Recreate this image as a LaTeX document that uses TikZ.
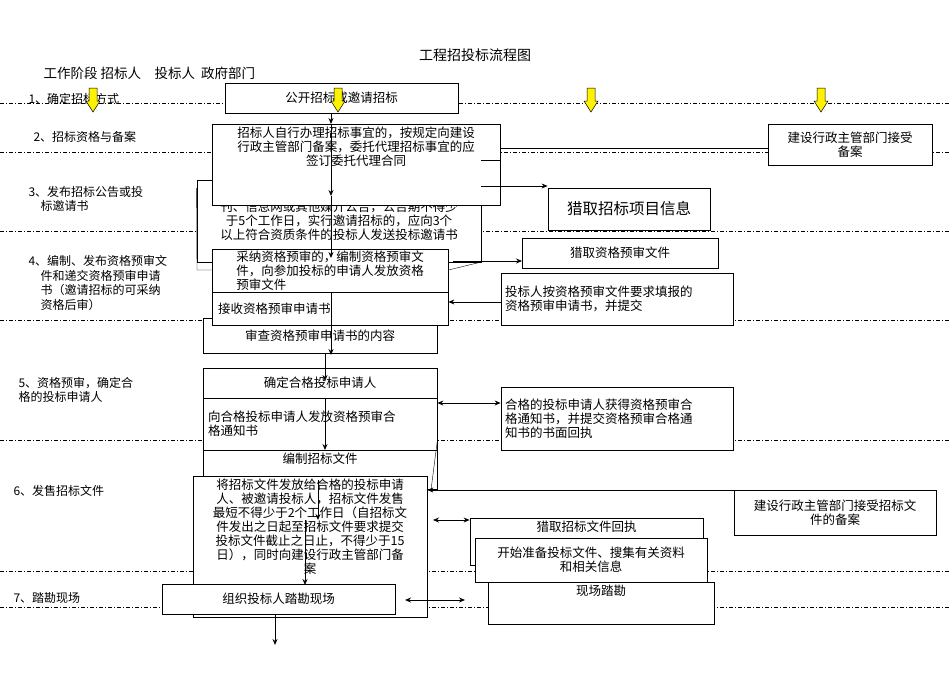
\documentclass[tikz,border=0pt]{standalone}
\usepackage{fontspec}
\setmainfont{Noto Sans CJK SC}
\XeTeXlinebreaklocale "zh"
\XeTeXlinebreakskip=0pt plus 1pt
\usetikzlibrary{arrows.meta}
\begin{document}
\begin{tikzpicture}[x=1pt,y=-1pt,
  bx/.style={draw,fill=white,line width=0.8pt,inner sep=3pt,align=center,font=\fontsize{12.5}{14}\selectfont},
  sep/.style={dash pattern=on 4pt off 2pt on 1pt off 2pt,line width=0.6pt},
  lbl/.style={anchor=west,align=left,font=\fontsize{12}{14.5}\selectfont},
  ar/.style={-{Stealth[length=6pt,width=5pt]},line width=0.8pt},
  dar/.style={{Stealth[length=6pt,width=5pt]}-{Stealth[length=6pt,width=5pt]},line width=0.8pt},
  yarr/.style={draw=black,fill=yellow,line width=0.5pt}]
\useasboundingbox (0,0) rectangle (950,672);
% separators
\foreach \y in {103,152,231,320,440,571,607}{\draw[sep] (0,\y) -- (950,\y);}
% title/header
\node[font=\fontsize{14}{16}\selectfont] (title) at (475,55) {工程招投标流程图};
\node[anchor=west,font=\fontsize{13.5}{16}\selectfont] (hdr) at (40,73) {工作阶段 招标人\quad 投标人 \ 政府部门};
% stage labels
\node[lbl] (s1) at (25,99) {1、确定招标方式};
\node[lbl] (s2) at (30,137) {2、招标资格与备案};
\node[lbl] (s3) at (25,199) {3、发布招标公告或投\\\quad 标邀请书};
\node[lbl] (s4) at (25,283) {4、编制、发布资格预审文\\\quad 件和递交资格预审申请\\\quad 书（邀请招标的可采纳\\\quad 资格后审）};
\node[lbl] (s5) at (15,390) {5、资格预审，确定合\\格的投标申请人};
\node[lbl] (s6) at (10,491) {6、发售招标文件};
\node[lbl] (s7) at (10,598) {7、踏勘现场};
% left column boxes
\node[bx,minimum width=233,minimum height=30] (b1) at (341.5,98) {公开招标或邀请招标};
\node[bx,minimum width=284,minimum height=82,anchor=north] (b3) at (339,180) {实行公开招标的，应在国家指定的报\\刊、信息网或其他媒介公告，公告期不得少\\于5个工作日，实行邀请招标的，应向3个\\以上符合资质条件的投标人发送投标邀请书\\[2pt]};
\node[bx,minimum width=288,minimum height=72,anchor=north] (b2) at (356,124) {招标人自行办理招标事宜的，按规定向建设\\行政主管部门备案，委托代理招标事宜的应\\签订委托代理合同\\[22pt]};
\node[bx,minimum width=236,minimum height=42,align=left,inner sep=2pt] (b4) at (330,271) {采纳资格预审的，编制资格预审文\\件，向参加投标的申请人发放资格\\预审文件};
\node[bx,minimum width=234,minimum height=35] (b6) at (320,335.5) {审查资格预审申请书的内容};
\node[bx,minimum width=236,minimum height=33,text width=224,align=left] (b5) at (330,308.5) {接收资格预审申请书};
\node[bx,minimum width=234,minimum height=30] (b7) at (320,383) {确定合格投标申请人};
\node[bx,minimum width=234,minimum height=52,text width=224,align=left] (b8) at (320,424) {向合格投标申请人发放资格预审合\\格通知书};
\node[bx,minimum width=234,minimum height=30,anchor=north] (b9) at (320,450) {编制招标文件\\[8pt]};
\node[bx,minimum width=234,minimum height=141,anchor=north,inner sep=2pt] (b10) at (310,476) {将招标文件发放给合格的投标申请\\人、被邀请投标人，招标文件发售\\最短不得少于2个工作日（自招标文\\件发出之日起至招标文件要求提交\\投标文件截止之日止，不得少于15\\日），同时向建设行政主管部门备\\案\\[28pt]};
\node[bx,minimum width=233,minimum height=30] (b11) at (278.5,599) {组织投标人踏勘现场};
% right boxes
\node[bx,minimum width=164,minimum height=41] (r1) at (850,144.5) {建设行政主管部门接受\\备案};
\node[bx,minimum width=162,minimum height=42,font=\fontsize{15.5}{18}\selectfont] (r2) at (629,209) {猎取招标项目信息};
\node[bx,minimum width=196,minimum height=30] (r3) at (620,253) {猎取资格预审文件};
\node[bx,minimum width=232,minimum height=52,text width=224,align=left] (r4) at (617,299) {投标人按资格预审文件要求填报的\\资格预审申请书，并提交};
\node[bx,minimum width=232,minimum height=63,text width=224,align=left] (r5) at (617,418.5) {合格的投标申请人获得资格预审合\\格通知书，并提交资格预审合格通\\知书的书面回执};
\node[bx,minimum width=202,minimum height=45] (r6) at (835,512.5) {建设行政主管部门接受招标文\\件的备案};
\node[bx,minimum width=226,minimum height=38,anchor=north] (r9) at (601,582) {现场踏勘\\[12pt]};
\node[bx,minimum width=233,minimum height=42,anchor=north] (r7) at (586.5,518) {猎取招标文件回执\\[16pt]};
\node[bx,minimum width=232,minimum height=44] (r8) at (591,560) {开始准备投标文件、搜集有关资料\\和相关信息};
% connectors
\draw[ar] (b1.south -| 331,0) -- (b2.north -| 331,0);
\draw[ar] (331,124) -- (331,196);
\draw[ar] (331,196) -- (331,258);
\draw[ar] (331,292) -- (331,355);
\draw[ar] (325,353) -- (325,381);
\draw[ar] (325,398) -- (325,450);
\draw[ar] (318,480) -- (318,520);
\draw[ar] (305,520) -- (305,585);
\coordinate (end) at (275,645);
\draw[ar] (b11.south -| end) -- (end);
\draw (b2.east |- 0,148) -- (r1.west |- 0,148);
\draw (b3.east |- 0,160) -- (b2.east |- 0,160);
\draw[ar] (481,186) -- (r2.west |- 0,186);
\draw (b3.west |- 0,188) -- (197,270) -- (b4.west |- 0,270);
\draw (b3.east |- 0,262) -- (b4.east |- 0,270);
\draw[ar] (453,261) -- (522,261);
\draw[ar] (r4.west |- 0,302) -- (b5.east |- 0,302);
\draw (b5.west |- 0,318) -- (203,318);
\draw[dar] (b8.east |- 0,403) -- (r5.west |- 0,403);
\draw[ar] (r6.west |- 0,490) -- (b10.east |- 0,490);
\draw (b8.east |- 0,440) -- (431,490);
\draw[dar] (433,520) -- (r7.west |- 0,520);
\draw[dar] (405,600) -- (465,600);
% yellow arrows
\foreach \x in {93,338,591,821}{
  \filldraw[yarr] (\x-4,88) -- (\x+4,88) -- (\x+4,101) -- (\x+7,101) -- (\x,112) -- (\x-7,101) -- (\x-4,101) -- cycle;}
\end{tikzpicture}
\end{document}
